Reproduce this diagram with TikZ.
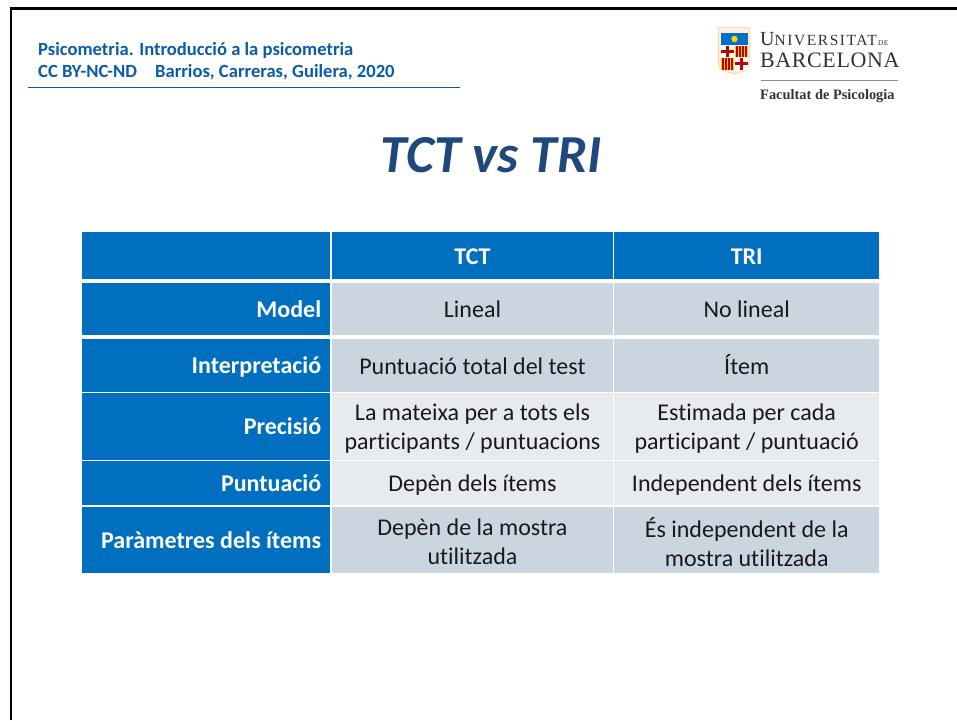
\documentclass[tikz,border=0pt]{standalone}
\usepackage{fontspec}
\setmainfont[Ligatures=NoCommon]{Carlito}
\newfontfamily\serifuni{Liberation Serif}
\definecolor{hblue}{HTML}{0A5CA8}
\definecolor{tblue}{HTML}{006FC0}
\definecolor{titleblue}{HTML}{1F497D}
\definecolor{rowdark}{HTML}{CBD5DF}
\definecolor{rowlight}{HTML}{E7EAEF}
\definecolor{logogrey}{HTML}{333333}
\tikzset{
  x=1pt,y=-1pt,
  cell/.style={anchor=north west,inner sep=0pt,align=flush center,font=\fontsize{24}{29}\selectfont,text=black!90,execute at end node={\par\vspace*{-3.5pt}}},
  darkcell/.style={cell,fill=rowdark},
  lightcell/.style={cell,fill=rowlight},
  headcell/.style={cell,fill=tblue,text=white,font=\fontsize{24}{29}\selectfont\bfseries},
  blankcell/.style={anchor=north west,inner sep=0pt,fill=tblue},
  sidecell/.style={headcell,align=flush right,inner xsep=9pt,text width=230pt,minimum width=248pt},
  colA/.style={minimum width=281.5pt,text width=281.5pt},
  colB/.style={minimum width=265pt,text width=265pt},
}
\begin{document}
\begin{tikzpicture}
\useasboundingbox (0,0) rectangle (957,720);
\fill[white] (0,0) rectangle (957,720);
% slide frame
\coordinate (frameTL) at (10.8,8.2);
\coordinate (frameBL) at (10.8,720);
\coordinate (frameTR) at (957,8.2);
\draw[black,line width=2.6pt] (frameBL) -- (frameTL) -- (frameTR);
% header
\node[anchor=north west,inner sep=0pt,align=left,text=hblue,font=\fontsize{18.6}{22}\selectfont\bfseries] (head) at (38,42.5)
  {Psicometria. Introducció a la psicometria\\CC BY-NC-ND\hspace{.75em} Barrios, Carreras, Guilera, 2020};
\coordinate (ruleL) at (28,87.2);
\coordinate (ruleR) at (459.5,87.2);
\draw[hblue,line width=1.2pt] (ruleL) -- (ruleR);
% logo shield
\begin{scope}
\path[fill=white!88!orange,draw=white!70!orange,line width=1pt]
  (718.5,27.5) -- (749.5,27.5) -- (749.5,64) .. controls (749.5,71) and (740,72) .. (734.2,74) .. controls (728,72) and (718.5,71) .. (718.5,64) -- cycle;
\fill[blue!45!cyan!80!black] (721,33) rectangle (748,45);
\fill[yellow!70!orange] (734.5,39) circle (3.2);
\fill[white] (721,46) rectangle (733.8,57);
\fill[red!75!black] (726.3,46) rectangle (729,57);
\fill[red!75!black] (721,50.2) rectangle (733.8,52.8);
\fill[yellow!65!orange] (735,46) rectangle (748,57);
\foreach \sx in {736.4,739.4,742.4,745.4}{\fill[red!75!black] (\sx,46) rectangle (\sx+1.6,57);}
\fill[yellow!65!orange] (721,58) rectangle (733.8,69.5);
\foreach \sx in {722.4,725.4,728.4,731.4}{\fill[red!75!black] (\sx,58) rectangle (\sx+1.6,69.5);}
\fill[white] (735,58) rectangle (748,69.5);
\fill[red!75!black] (740,58) rectangle (742.6,69.5);
\fill[red!75!black] (735,62.4) rectangle (748,65);
\end{scope}
% logo text
\node[anchor=base west,inner sep=0pt,text=logogrey,font=\serifuni\fontsize{20}{20}\selectfont] (uni) at (760,45.5)
  {U\fontsize{15.5}{15.5}\selectfont\addfontfeature{LetterSpace=10}NIVERSITAT\fontsize{7.5}{7.5}\selectfont\,\addfontfeature{LetterSpace=4}DE};
\node[anchor=base west,inner sep=0pt,text=logogrey,font=\serifuni\fontsize{22}{22}\selectfont\addfontfeature{LetterSpace=2.7}] (bcn) at (760,67) {BARCELONA};
\coordinate (logoL) at (761,80.7);
\coordinate (logoR) at (898,80.7);
\draw[black!45,line width=.9pt] (logoL) -- (logoR);
\node[anchor=base west,inner sep=0pt,text=logogrey,font=\serifuni\bfseries\fontsize{14.4}{14.4}\selectfont] (fac) at (760,99.5) {Facultat de Psicologia};
% title
\node[inner sep=0pt,text=titleblue,font=\fontsize{53.5}{53.5}\selectfont\bfseries\itshape] (title) at (491,155) {TCT vs TRI};
% table
\node[blankcell,minimum width=248pt,minimum height=47pt] (h0) at (82,232) {};
\node[headcell,colA,minimum height=47pt] (h1) at (331.5,232) {\raisebox{-2pt}{TCT}};
\node[headcell,colB,minimum height=47pt] (h2) at (614,232) {\raisebox{-2pt}{TRI}};
\node[sidecell,minimum height=52pt] (a0) at (82,283) {Model};
\node[darkcell,colA,minimum height=52pt] (a1) at (331.5,283) {Lineal};
\node[darkcell,colB,minimum height=52pt] (a2) at (614,283) {No lineal};
\node[sidecell,minimum height=53pt] (b0) at (82,339) {Interpretació};
\node[darkcell,colA,minimum height=53pt] (b1) at (331.5,339) {Puntuació total del test};
\node[darkcell,colB,minimum height=53pt] (b2) at (614,339) {\raisebox{2pt}{Ítem}};
\node[sidecell,minimum height=66.5pt] (c0) at (82,393) {Precisió};
\node[lightcell,colA,minimum height=66.5pt] (c1) at (331.5,393) {La mateixa per a tots els\\participants / puntuacions};
\node[lightcell,colB,minimum height=66.5pt] (c2) at (614,393) {Estimada per cada\\participant / puntuació};
\node[sidecell,minimum height=44pt] (d0) at (82,461) {Puntuació};
\node[lightcell,colA,minimum height=44pt] (d1) at (331.5,461) {Depèn dels ítems};
\node[lightcell,colB,minimum height=44pt] (d2) at (614,461) {Independent dels ítems};
\node[sidecell,minimum height=66pt] (e0) at (82,507) {Paràmetres dels ítems};
\node[darkcell,colA,minimum height=66pt] (e1) at (331.5,507) {Depèn de la mostra\\utilitzada};
\node[darkcell,colB,minimum height=66pt] (e2) at (614,507) {És independent de la\\mostra utilitzada};
\end{tikzpicture}
\end{document}
